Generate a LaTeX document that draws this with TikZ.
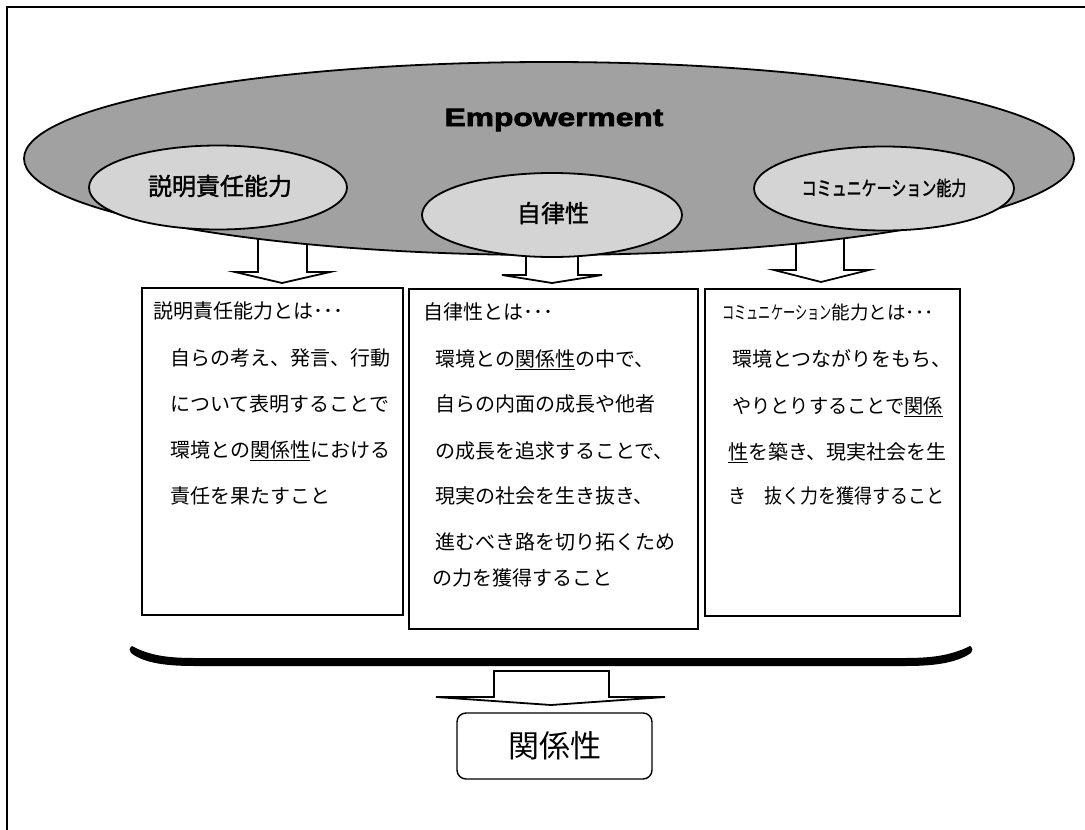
\documentclass[tikz,border=0pt]{standalone}
\usepackage{fontspec}
\usepackage{graphicx}
\usetikzlibrary{shapes.geometric}
\newfontfamily\jp{Noto Sans CJK JP}
\newfontfamily\jpb[FakeBold=1.5]{Noto Sans CJK JP}
\newfontfamily\empfont[BoldFeatures={FakeBold=2.5}]{Liberation Sans}
\definecolor{bigfill}{gray}{0.63}
\definecolor{smallfill}{gray}{0.83}
\begin{document}
\begin{tikzpicture}[x=1pt,y=-1pt,
  frameline/.style={line width=2.5pt},
  blockarrow/.style={draw=black, fill=white, line width=1.8pt, line join=miter},
  bigell/.style={ellipse, draw=black, line width=1.8pt, fill=bigfill, inner sep=0pt},
  smallell/.style={ellipse, draw=black, line width=1.8pt, fill=smallfill, inner sep=0pt,
     minimum width=258pt, minimum height=84pt},
  textbox/.style={draw=black, line width=1.4pt, fill=white, inner sep=0pt},
  boxtxt/.style={anchor=west, inner sep=0pt, text height=16pt, text depth=3.5pt,
     font=\jp\fontsize{20}{24}\selectfont},
  elltxt/.style={font=\jpb\fontsize{24}{28}\selectfont}
]
\useasboundingbox (0,0) rectangle (1085,830);
\draw[frameline] (7,830) -- (7,7) -- (1085,7);

% block arrows from the ellipses to the boxes (drawn under the ellipses)
\draw[blockarrow] (258,225) -- (258,272) -- (235,272) -- (282,283) -- (330,272) -- (307,272) -- (307,225) -- cycle;
\draw[blockarrow] (526,225) -- (526,275) -- (502,275) -- (552,283) -- (602,275) -- (578,275) -- (578,225) -- cycle;
\draw[blockarrow] (796,225) -- (796,270) -- (774,270) -- (821,282) -- (869,270) -- (844,270) -- (844,225) -- cycle;

% ellipses
\node[bigell, minimum width=1050pt, minimum height=193pt] (emp) at (549,158.5) {};
\node (emptxt) at (554,120) {\empfont\bfseries\fontsize{25}{30}\selectfont\scalebox{1.27}[1]{Empowerment}};
\node[smallell] (e1) at (218,187.5) {};
\node[elltxt] (e1txt) at (220,186) {説明責任能力};
\node[smallell, minimum width=260pt] (e2) at (552,215) {};
\node[elltxt] (e2txt) at (553,213) {自律性};
\node[smallell, minimum width=260pt] (e3) at (884,188.5) {};
\node[font=\jpb\fontsize{20}{24}\selectfont] (e3txt) at (884,188) {\scalebox{0.75}[1]{コミュニケーション能力}};

% text boxes
\node[textbox, minimum width=261pt, minimum height=327pt] (b1) at (272.5,451.5) {};
\node[textbox, minimum width=289pt, minimum height=340pt] (b2) at (553.5,459) {};
\node[textbox, minimum width=255pt, minimum height=327pt] (b3) at (832.5,452.5) {};

% box 1 text
\node[boxtxt] (b1t0) at (153,312) {説明責任能力とは･･･};
\node[boxtxt] (b1t1) at (170,359) {自らの考え、発言、行動};
\node[boxtxt] (b1t2) at (170,405) {について表明することで};
\node[boxtxt] (b1t3) at (170,451) {環境との\underline{関係性}における};
\node[boxtxt] (b1t4) at (170,497) {責任を果たすこと};

% box 2 text
\node[boxtxt] (b2t0) at (423,313) {自律性とは･･･};
\node[boxtxt] (b2t1) at (435,360) {環境との\underline{関係性}の中で、};
\node[boxtxt] (b2t2) at (435,405) {自らの内面の成長や他者};
\node[boxtxt] (b2t3) at (435,452) {の成長を追求することで、};
\node[boxtxt] (b2t4) at (435,497) {現実の社会を生き抜き、};
\node[boxtxt] (b2t5) at (435,543) {進むべき路を切り拓くため};
\node[boxtxt] (b2t6) at (432,579) {の力を獲得すること};

% box 3 text
\node[boxtxt, font=\jp\fontsize{18.5}{22}\selectfont] (b3t0) at (722,313) {\scalebox{0.66}[1]{コミュニケーション}能力とは･･･};
\node[boxtxt] (b3t1) at (732,360) {環境とつながりをもち、};
\node[boxtxt] (b3t2) at (732,407) {\scalebox{0.96}[1]{やりとりすることで\underline{関係}}};
\node[boxtxt] (b3t3) at (728,453) {\underline{性}を築き、現実社会を生};
\node[boxtxt] (b3t4) at (728,497) {\scalebox{0.9}[1]{き　抜く力を獲得すること}};

% bracket under the boxes
\fill[line join=round] (132,646) .. controls (150,656) and (170,658) .. (195,658) -- (905,658)
   .. controls (930,658) and (950,656) .. (970,646)
   .. controls (973,648) and (973,651) .. (971,653)
   .. controls (955,664) and (930,666) .. (905,666) -- (195,666)
   .. controls (170,666) and (145,664) .. (131,653)
   .. controls (129,651) and (129,648) .. (132,646) -- cycle;

% bottom arrow and result box
\draw[blockarrow] (494,671) -- (609,671) -- (609,697) -- (665,697) -- (551,705) -- (436,697) -- (494,697) -- cycle;
\node[draw=black, line width=1.4pt, rounded corners=9pt, minimum width=195pt, minimum height=66pt,
      font=\jp\fontsize{31}{36}\selectfont] (rel) at (554.5,746) {関係性};
\end{tikzpicture}
\end{document}
